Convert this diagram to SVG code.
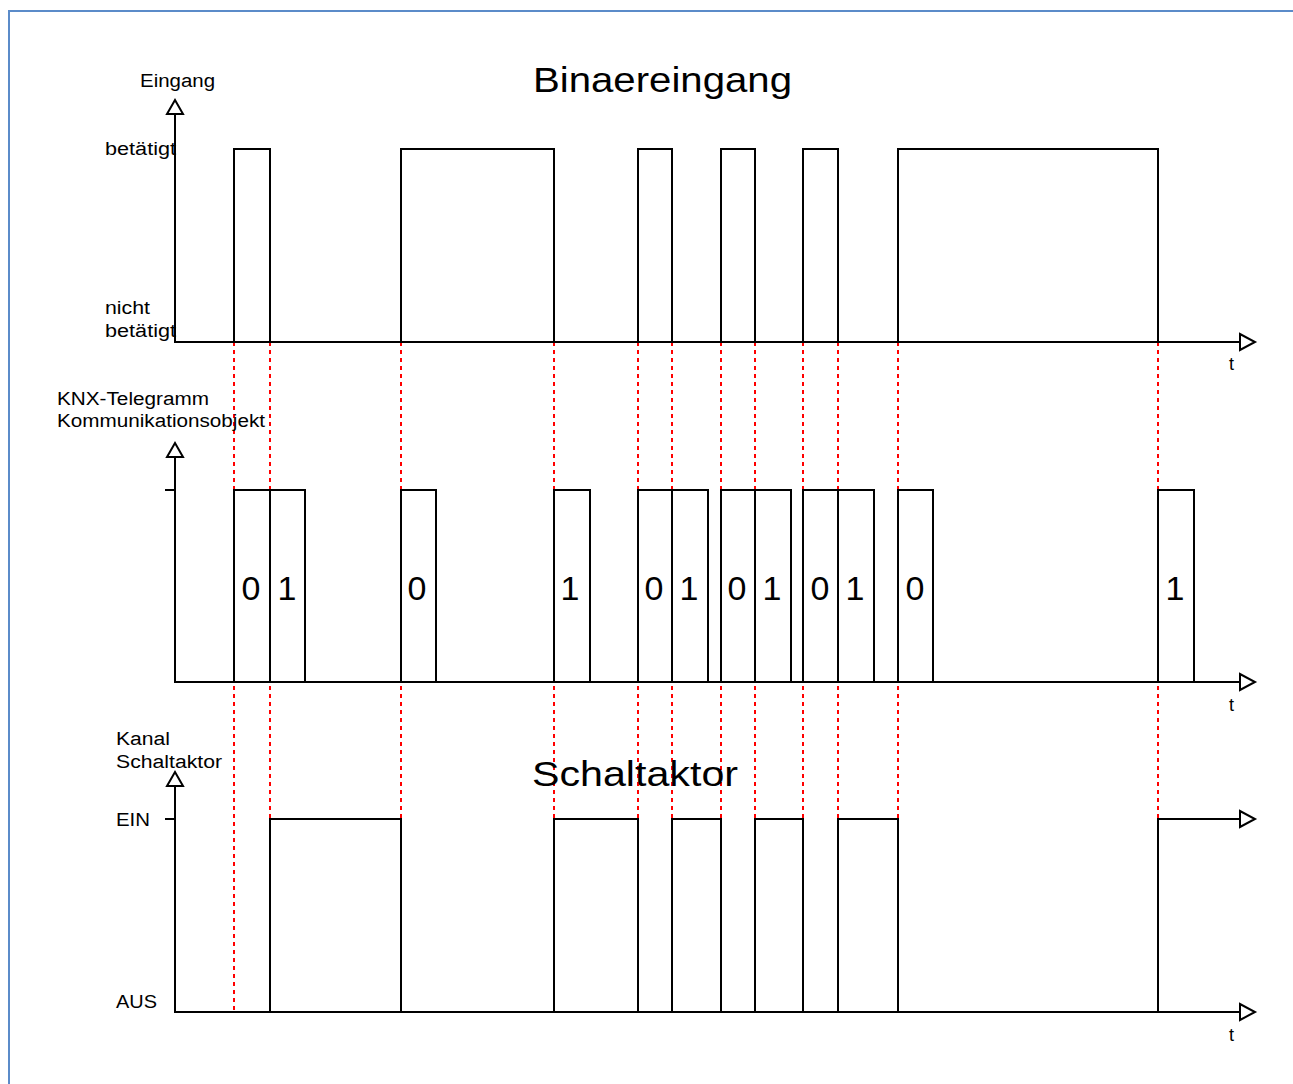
<svg xmlns="http://www.w3.org/2000/svg" width="1293" height="1084" viewBox="0 0 1293 1084">
<defs>
<style>
.ax{fill:none;stroke:#000;stroke-width:2}
.sig{fill:none;stroke:#000;stroke-width:2}
.red{stroke:#ff0000;stroke-width:2;stroke-dasharray:4 4}
.arr{fill:#fff;stroke:#000;stroke-width:2;stroke-linejoin:miter}
.lbl{font-family:"Liberation Sans",Arial,sans-serif;font-size:18px;fill:#000}
.ttl{font-family:"Liberation Sans",Arial,sans-serif;font-size:35px;fill:#000}
.dig{font-family:"Liberation Sans",Arial,sans-serif;font-size:34px;fill:#000;text-anchor:middle}
</style>
</defs>
<rect width="1293" height="1084" fill="#fff"/>
<path d="M9,1084 V11 H1293" fill="none" stroke="#5b8bc9" stroke-width="2"/>

<g id="guides">
<line class="red" x1="234" y1="342" x2="234" y2="1012"/>
<line class="red" x1="270" y1="342" x2="270" y2="1012"/>
<line class="red" x1="401" y1="342" x2="401" y2="1012"/>
<line class="red" x1="554" y1="342" x2="554" y2="1012"/>
<line class="red" x1="638" y1="342" x2="638" y2="1012"/>
<line class="red" x1="672" y1="342" x2="672" y2="1012"/>
<line class="red" x1="721" y1="342" x2="721" y2="1012"/>
<line class="red" x1="755" y1="342" x2="755" y2="1012"/>
<line class="red" x1="803" y1="342" x2="803" y2="1012"/>
<line class="red" x1="838" y1="342" x2="838" y2="1012"/>
<line class="red" x1="898" y1="342" x2="898" y2="1012"/>
<line class="red" x1="1158" y1="342" x2="1158" y2="1012"/>
</g>

<g id="chart-binaereingang">
<text class="ttl" x="533" y="92" textLength="259" lengthAdjust="spacingAndGlyphs">Binaereingang</text>
<text class="lbl" x="140" y="87" textLength="75" lengthAdjust="spacingAndGlyphs">Eingang</text>
<text class="lbl" x="105" y="155" textLength="71" lengthAdjust="spacingAndGlyphs">betätigt</text>
<text class="lbl" x="105" y="314" textLength="45" lengthAdjust="spacingAndGlyphs">nicht</text>
<text class="lbl" x="105" y="337" textLength="71" lengthAdjust="spacingAndGlyphs">betätigt</text>
<text class="lbl" x="1229" y="370">t</text>
<path class="ax" d="M175,114 V342 H1240"/>
<polygon class="arr" points="167,114 183,114 175,100"/>
<polygon class="arr" points="1240,334 1240,350 1255,342"/>
<path class="sig" d="M234,342 V149 H270 V342 M401,342 V149 H554 V342 M638,342 V149 H672 V342 M721,342 V149 H755 V342 M803,342 V149 H838 V342 M898,342 V149 H1158 V342"/>
</g>

<g id="chart-knx">
<text class="lbl" x="57" y="405" textLength="152" lengthAdjust="spacingAndGlyphs">KNX-Telegramm</text>
<text class="lbl" x="57" y="427" textLength="208" lengthAdjust="spacingAndGlyphs">Kommunikationsobjekt</text>
<text class="lbl" x="1229" y="711">t</text>
<path class="ax" d="M175,457 V682 H1240 M165,490 H175"/>
<polygon class="arr" points="167,457 183,457 175,443"/>
<polygon class="arr" points="1240,674 1240,690 1255,682"/>
<g class="sig">
<rect x="234" y="490" width="36" height="192"/>
<rect x="270" y="490" width="35" height="192"/>
<rect x="401" y="490" width="35" height="192"/>
<rect x="554" y="490" width="36" height="192"/>
<rect x="638" y="490" width="34" height="192"/>
<rect x="672" y="490" width="36" height="192"/>
<rect x="721" y="490" width="34" height="192"/>
<rect x="755" y="490" width="36" height="192"/>
<rect x="803" y="490" width="35" height="192"/>
<rect x="838" y="490" width="36" height="192"/>
<rect x="898" y="490" width="35" height="192"/>
<rect x="1158" y="490" width="36" height="192"/>
</g>
<text class="dig" x="251" y="600">0</text>
<text class="dig" x="287" y="600">1</text>
<text class="dig" x="417" y="600">0</text>
<text class="dig" x="570" y="600">1</text>
<text class="dig" x="654" y="600">0</text>
<text class="dig" x="689" y="600">1</text>
<text class="dig" x="737" y="600">0</text>
<text class="dig" x="772" y="600">1</text>
<text class="dig" x="820" y="600">0</text>
<text class="dig" x="855" y="600">1</text>
<text class="dig" x="915" y="600">0</text>
<text class="dig" x="1175" y="600">1</text>
</g>

<g id="chart-schaltaktor">
<text class="ttl" x="532" y="786" textLength="206" lengthAdjust="spacingAndGlyphs">Schaltaktor</text>
<text class="lbl" x="116" y="745" textLength="54" lengthAdjust="spacingAndGlyphs">Kanal</text>
<text class="lbl" x="116" y="768" textLength="106" lengthAdjust="spacingAndGlyphs">Schaltaktor</text>
<text class="lbl" x="116" y="826" textLength="34" lengthAdjust="spacingAndGlyphs">EIN</text>
<text class="lbl" x="116" y="1008" textLength="41" lengthAdjust="spacingAndGlyphs">AUS</text>
<text class="lbl" x="1229" y="1041">t</text>
<path class="ax" d="M175,786 V1012 H1240 M165,819 H175"/>
<polygon class="arr" points="167,786 183,786 175,772"/>
<polygon class="arr" points="1240,1004 1240,1020 1255,1012"/>
<polygon class="arr" points="1240,811 1240,827 1255,819"/>
<path class="sig" d="M270,1012 V819 H401 V1012 M554,1012 V819 H638 V1012 M672,1012 V819 H721 V1012 M755,1012 V819 H803 V1012 M838,1012 V819 H898 V1012 M1158,1012 V819 H1240"/>
</g>
</svg>
